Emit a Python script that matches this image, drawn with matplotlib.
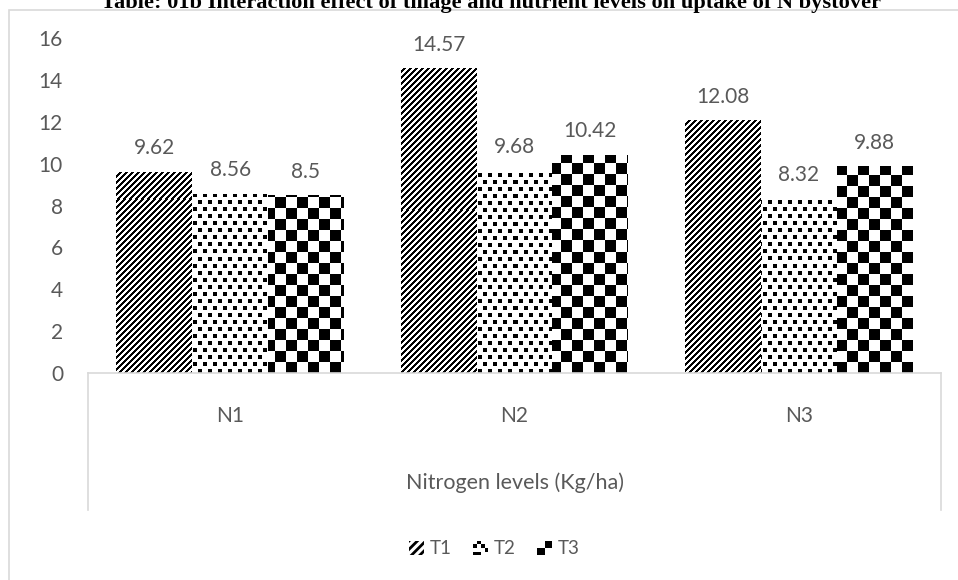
import numpy as np
import matplotlib
matplotlib.use("Agg")
import matplotlib.pyplot as plt
from matplotlib.patches import Rectangle, Patch
from matplotlib.legend_handler import HandlerBase
from matplotlib.lines import Line2D

# ---------------- data ----------------
categories = ["N1", "N2", "N3"]
series_names = ["T1", "T2", "T3"]
T1 = [9.62, 14.57, 12.08]
T2 = [8.56, 9.68, 8.32]
T3 = [8.5, 10.42, 9.88]
yticks = [0, 2, 4, 6, 8, 10, 12, 14, 16]
title = "Table: 01b Interaction effect of tillage and nutrient levels on uptake of N bystover"
xlabel = "Nitrogen levels (Kg/ha)"

GRAY = "#595959"
LINE = "#d9d9d9"
FONT = "Lato"

W_PX, H_PX = 958, 580
fig = plt.figure(figsize=(W_PX / 100, H_PX / 100), dpi=100)
ax_left, ax_right, ax_top, ax_bot = 88, 941, 38, 373
ax = fig.add_axes([ax_left / W_PX, 1 - ax_bot / H_PX,
                   (ax_right - ax_left) / W_PX, (ax_bot - ax_top) / H_PX])

# outer chart frame
fig.add_artist(Rectangle((9 / W_PX, -0.5), 2, 1 - 10 / H_PX + 0.5,
                         transform=fig.transFigure, fill=False,
                         edgecolor=LINE, lw=1.2))

x = np.arange(len(categories))
group = 0.8
bw = group / 3
series = [T1, T2, T3]

# pixel textures covering the axes
axw = ax_right - ax_left
axh = ax_bot - ax_top
jj, ii = np.meshgrid(np.arange(axw), np.arange(axh))
tex_stripes = (((jj - ii) % 6) >= 3).astype(float)
dots = ((ii % 14 < 4) & (jj % 10 < 4)) | (((ii + 7) % 14 < 4) & ((jj + 5) % 10 < 4))
tex_dots = (~dots).astype(float)
tex_check = ((((ii // 11) + (jj // 11)) % 2) == 1).astype(float)
textures = [tex_stripes, tex_dots, tex_check]

for k, (vals, tex) in enumerate(zip(series, textures)):
    bars = ax.bar(x + (k - 1) * bw, vals, bw, color="white", edgecolor="none",
                  zorder=1, label=series_names[k])
    for b, v in zip(bars, vals):
        im = ax.imshow(tex, extent=(0, 1, 0, 1), transform=ax.transAxes,
                       aspect="auto", interpolation="nearest", origin="lower",
                       cmap="gray", vmin=0, vmax=1, zorder=1.5)
        im.set_clip_path(b)
        ax.annotate(f"{v:g}", (b.get_x() + b.get_width() / 2, v),
                    xytext=(0, 12.5), textcoords="offset points",
                    ha="center", va="baseline", fontsize=15,
                    color=GRAY, family=FONT)

ax.set_xlim(-0.5, len(categories) - 0.5)
ax.set_ylim(0, 16)
ax.set_yticks(yticks)
ax.set_yticklabels([str(t) for t in yticks], fontsize=15, color=GRAY, family=FONT)
ax.set_xticks(x)
ax.set_xticklabels(categories, fontsize=15, color=GRAY, family=FONT)
ax.tick_params(axis="y", length=0, pad=18)
ax.tick_params(axis="x", length=0, pad=23.5)
for s in ["top", "right", "left"]:
    ax.spines[s].set_visible(False)
ax.spines["bottom"].set_color(LINE)
ax.spines["bottom"].set_linewidth(1.2)

# multi-level category box edges
ybot = -(510 - ax_bot) / axh
for xa in (0, 1):
    ax.add_line(Line2D([xa, xa], [0, ybot], transform=ax.transAxes,
                       color=LINE, lw=1.2, clip_on=False))

ax.text(0.5, -(489 - ax_bot) / axh, xlabel, transform=ax.transAxes,
        ha="center", va="baseline", fontsize=15.5, color=GRAY, family=FONT)

# title (clipped at top like the reference)
fig.text(491 / W_PX, 1 - 8 / H_PX, title, ha="center", va="baseline",
         family="Liberation Serif", fontweight="bold", fontsize=16.1, color="black")


# legend handlers
class GridHandler(HandlerBase):
    def __init__(self, cells, n):
        super().__init__()
        self.cells = cells
        self.n = n

    def create_artists(self, legend, orig_handle, xdescent, ydescent,
                       width, height, fontsize, trans):
        s = height
        x0 = -xdescent + (width - s)
        y0 = -ydescent
        c = s / self.n
        arts = []
        for (r, q) in self.cells:
            arts.append(Rectangle((x0 + q * c, y0 + r * c), c, c,
                                  facecolor="black", edgecolor="none",
                                  transform=trans))
        return arts


class HatchHandler(HandlerBase):
    def create_artists(self, legend, orig_handle, xdescent, ydescent,
                       width, height, fontsize, trans):
        s = height
        return [Rectangle((-xdescent + (width - s), -ydescent), s, s,
                          facecolor="white", edgecolor="black", linewidth=0,
                          hatch="////", transform=trans)]


plt.rcParams["hatch.linewidth"] = 2.0
h1 = Patch(label="T1")
h2 = Patch(label="T2")
h3 = Patch(label="T3")
leg = fig.legend(handles=[h1, h2, h3], labels=series_names,
                 handler_map={h1: HatchHandler(),
                              h2: GridHandler([(2, 0), (0, 1), (2, 2), (1, 3), (0, 0), (3, 1)], 4),
                              h3: GridHandler([(0, 0), (1, 1)], 2)},
                 loc="center", bbox_to_anchor=(494 / W_PX, 1 - 549 / H_PX),
                 ncol=3, frameon=False, handlelength=0.85, handleheight=0.85,
                 handletextpad=0.3, columnspacing=1.1,
                 prop={"family": FONT, "size": 13.5})
for t in leg.get_texts():
    t.set_color(GRAY)

fig.savefig("out.png", dpi=100)
